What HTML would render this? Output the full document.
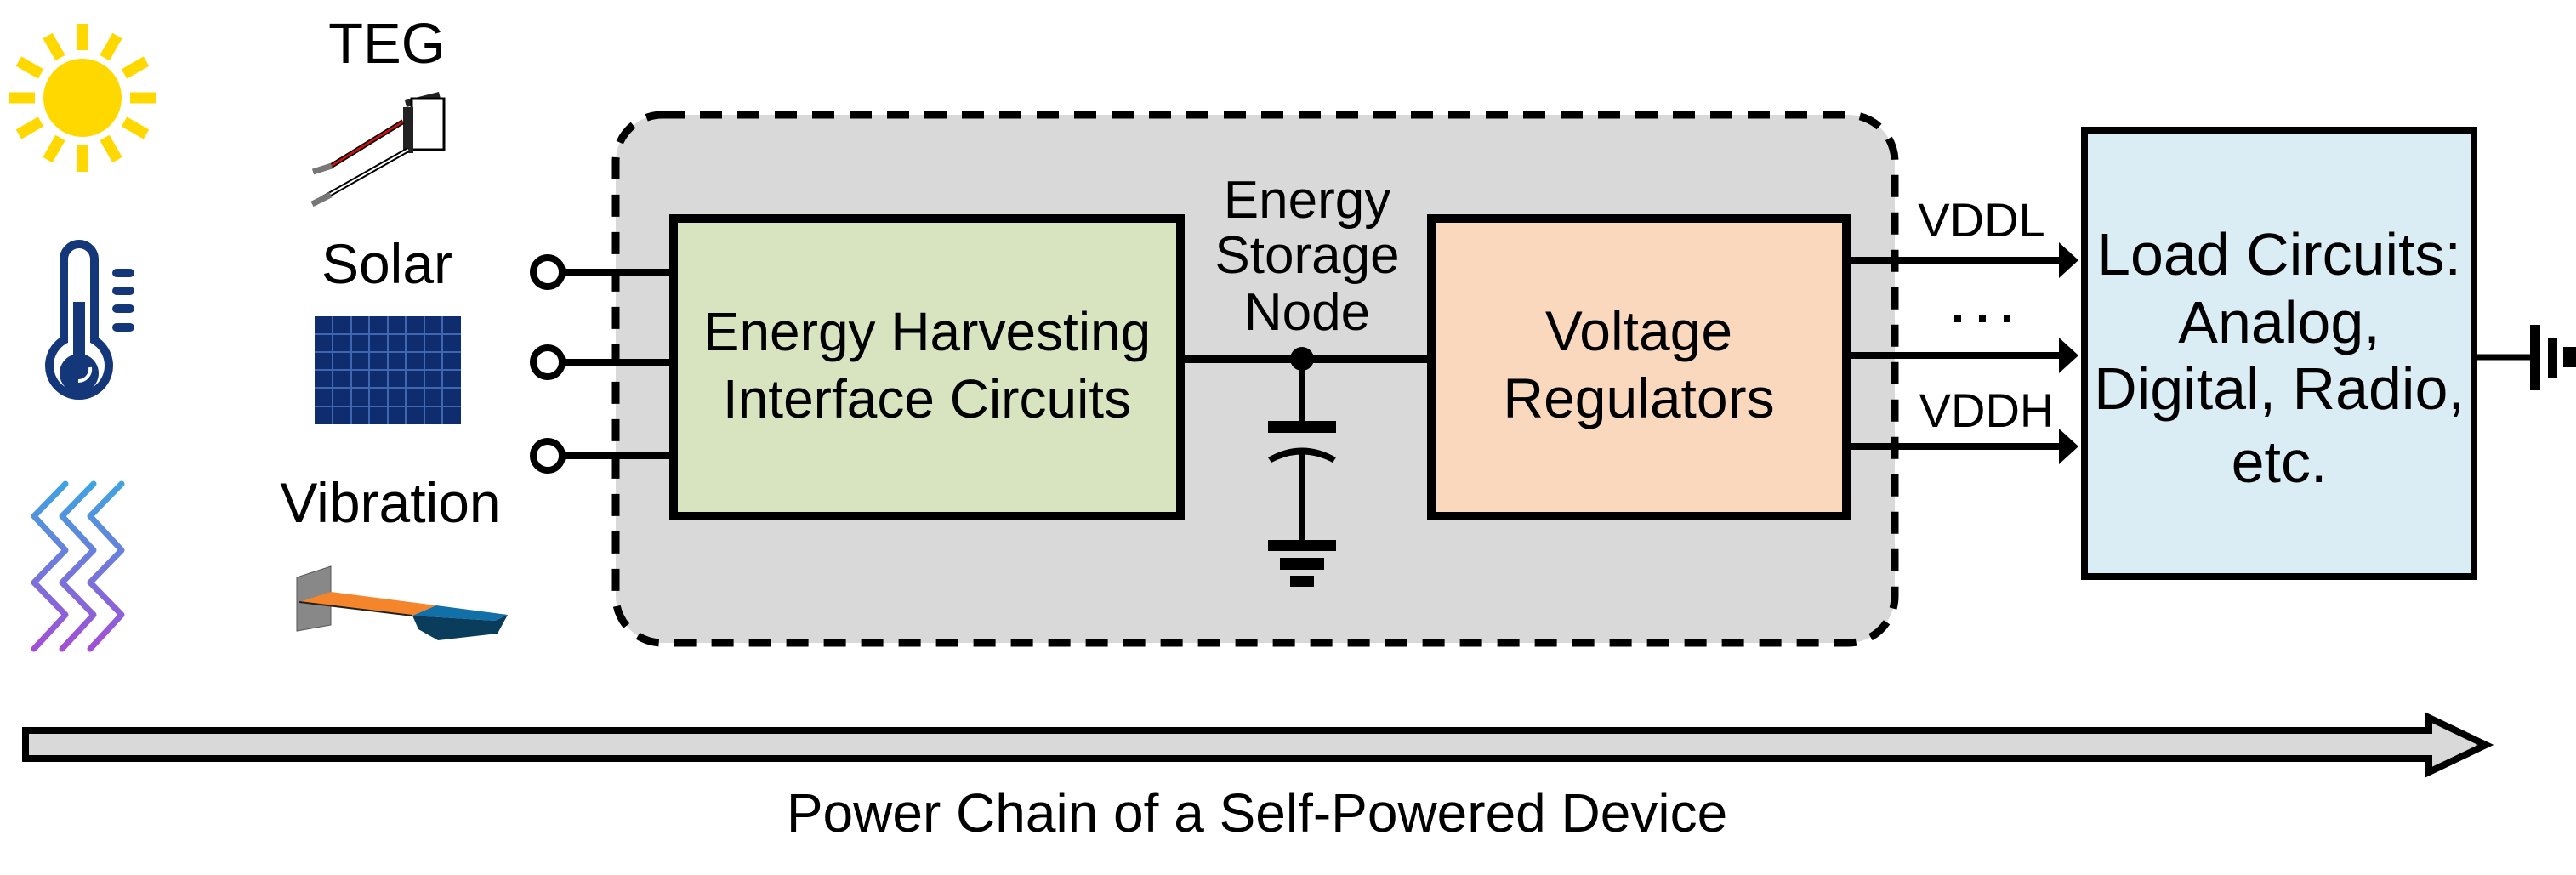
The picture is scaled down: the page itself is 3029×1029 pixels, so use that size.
<!DOCTYPE html>
<html><head><meta charset="utf-8"><style>
html,body{margin:0;padding:0;background:#fff;}
svg{display:block;}
text{font-family:"Liberation Sans",Arial,sans-serif;fill:#000;}
</style></head><body>
<svg width="3029" height="1029" viewBox="0 0 3029 1029" xmlns="http://www.w3.org/2000/svg">
<defs>
<linearGradient id="zg" x1="0" y1="0" x2="0" y2="1">
<stop offset="0" stop-color="#3fa3e0"/><stop offset="1" stop-color="#a24fd6"/>
</linearGradient>
</defs>
<!-- Sun -->
<g fill="#ffd800" stroke="#ffd800">
<circle cx="97" cy="115" r="46" stroke="none"/>
<g stroke-width="13">
<line x1="97" y1="28" x2="97" y2="59"/><line x1="97" y1="171" x2="97" y2="202"/>
<line x1="10" y1="115" x2="41" y2="115"/><line x1="153" y1="115" x2="184" y2="115"/>
<line x1="56" y1="42" x2="71" y2="68"/><line x1="123" y1="162" x2="138" y2="188"/>
<line x1="138" y1="42" x2="123" y2="68"/><line x1="71" y1="162" x2="56" y2="188"/>
<line x1="22" y1="72" x2="48" y2="87"/><line x1="146" y1="143" x2="172" y2="158"/>
<line x1="172" y1="72" x2="146" y2="87"/><line x1="48" y1="143" x2="22" y2="158"/>
</g></g>
<!-- Thermometer -->
<g fill="none" stroke="#14377a" stroke-width="10" stroke-linecap="round">
<path d="M75 400 V305 a18 18 0 0 1 36 0 V400 a35 35 0 1 1 -36 0 Z"/>
<line x1="137" y1="321" x2="153" y2="321"/><line x1="137" y1="342" x2="153" y2="342"/>
<line x1="137" y1="363" x2="153" y2="363"/><line x1="137" y1="385" x2="153" y2="385"/>
</g>
<rect x="86" y="355" width="14" height="70" fill="#14377a"/>
<circle cx="93" cy="439" r="23" fill="#14377a"/>
<path d="M106 432 a14 14 0 0 1 -14 16" stroke="#fff" stroke-width="4" fill="none"/>
<!-- Zigzags -->
<g fill="none" stroke="url(#zg)" stroke-width="7" stroke-linecap="round" stroke-linejoin="round">
<path d="M77 569 L40 607 L77 647 L40 685 L77 723 L40 763"/>
<path d="M110 569 L73 607 L110 647 L73 685 L110 723 L73 763"/>
<path d="M143 569 L106 607 L143 647 L106 685 L143 723 L106 763"/>
</g>
<!-- TEG -->
<text x="455" y="74" font-size="67" text-anchor="middle">TEG</text>
<polygon points="476,118 516,108 518,116 478,126" fill="#222"/>
<rect x="484" y="116" width="38" height="60" fill="#fff" stroke="#000" stroke-width="3"/>
<rect x="474" y="126" width="12" height="54" fill="#222"/>
<line x1="388" y1="196" x2="474" y2="143" stroke="#000" stroke-width="6"/>
<line x1="388" y1="196" x2="474" y2="143" stroke="#d01010" stroke-width="2.5"/>
<line x1="378" y1="234" x2="480" y2="176" stroke="#000" stroke-width="6"/>
<line x1="378" y1="234" x2="480" y2="176" stroke="#fff" stroke-width="2"/>
<line x1="368" y1="202" x2="390" y2="195" stroke="#777" stroke-width="7"/>
<line x1="367" y1="240" x2="389" y2="229" stroke="#777" stroke-width="7"/>
<!-- Solar -->
<text x="455" y="333" font-size="66" text-anchor="middle">Solar</text>
<rect x="370" y="372" width="172" height="127" fill="#0f2d6e"/>
<g stroke="#3f66b0" stroke-width="2">
<line x1="391" y1="372" x2="391" y2="499"/><line x1="413" y1="372" x2="413" y2="499"/><line x1="434" y1="372" x2="434" y2="499"/><line x1="456" y1="372" x2="456" y2="499"/><line x1="477" y1="372" x2="477" y2="499"/><line x1="499" y1="372" x2="499" y2="499"/><line x1="520" y1="372" x2="520" y2="499"/>
<line x1="370" y1="393" x2="542" y2="393"/><line x1="370" y1="414" x2="542" y2="414"/><line x1="370" y1="435" x2="542" y2="435"/><line x1="370" y1="456" x2="542" y2="456"/><line x1="370" y1="478" x2="542" y2="478"/>
</g>
<!-- Vibration -->
<text x="459" y="614" font-size="66" text-anchor="middle">Vibration</text>
<polygon points="349,679 389,666 389,735 349,742" fill="#888" stroke="#555" stroke-width="1"/>
<polygon points="352,708 389,696 513,712 485,724" fill="#f5852a"/>
<polygon points="485,724 513,712 597,723 582,730" fill="#1170a8"/>
<polygon points="485,724 582,730 597,723 585,745 515,753 492,740" fill="#0a3c5c"/>
<line x1="352" y1="708" x2="485" y2="724" stroke="#222" stroke-width="2"/>
<!-- Dashed container -->
<rect x="724" y="135" width="1504" height="621" rx="55" fill="#d9d9d9" stroke="#000" stroke-width="9" stroke-dasharray="26,18"/>
<!-- input terminals -->
<g stroke="#000" stroke-width="8" fill="#fff">
<line x1="664" y1="320" x2="787" y2="320"/><line x1="664" y1="426" x2="787" y2="426"/><line x1="664" y1="536" x2="787" y2="536"/>
<circle cx="644" cy="320" r="17"/><circle cx="644" cy="426" r="17"/><circle cx="644" cy="536" r="17"/>
</g>
<!-- boxes -->
<rect x="792" y="257" width="596" height="350" fill="#d8e4bf" stroke="#000" stroke-width="10"/>
<rect x="1683" y="257" width="488" height="350" fill="#fad8bd" stroke="#000" stroke-width="10"/>
<text x="1090" y="412" font-size="64" text-anchor="middle">Energy Harvesting</text>
<text x="1090" y="491" font-size="64" text-anchor="middle">Interface Circuits</text>
<text x="1927" y="412" font-size="66" text-anchor="middle">Voltage</text>
<text x="1927" y="491" font-size="66" text-anchor="middle">Regulators</text>
<!-- node -->
<text x="1537" y="256" font-size="62" text-anchor="middle">Energy</text>
<text x="1537" y="321" font-size="62" text-anchor="middle">Storage</text>
<text x="1537" y="388" font-size="62" text-anchor="middle">Node</text>
<line x1="1393" y1="422" x2="1678" y2="422" stroke="#000" stroke-width="10"/>
<circle cx="1531" cy="422" r="14"/>
<line x1="1531" y1="422" x2="1531" y2="500" stroke="#000" stroke-width="7"/>
<rect x="1491" y="495" width="80" height="14"/>
<path d="M1491 538 Q1531 515 1571 538 L1567 544 Q1531 525 1495 544 Z"/>
<line x1="1531" y1="530" x2="1531" y2="640" stroke="#000" stroke-width="7"/>
<rect x="1491" y="635" width="80" height="13"/>
<rect x="1505" y="656" width="52" height="14"/>
<rect x="1517" y="677" width="28" height="13"/>
<!-- output arrows -->
<g stroke="#000" stroke-width="8">
<line x1="2171" y1="306" x2="2425" y2="306"/><line x1="2171" y1="418" x2="2425" y2="418"/><line x1="2171" y1="525" x2="2425" y2="525"/>
</g>
<polygon points="2421,285 2444,306 2421,327"/>
<polygon points="2421,397 2444,418 2421,439"/>
<polygon points="2421,504 2444,525 2421,546"/>
<text x="2330" y="278" font-size="56" text-anchor="middle">VDDL</text>
<rect x="2298" y="371" width="8" height="8"/><rect x="2327" y="371" width="8" height="8"/><rect x="2356" y="371" width="8" height="8"/>
<text x="2336" y="502" font-size="56" text-anchor="middle">VDDH</text>
<!-- load -->
<rect x="2451" y="153" width="458" height="525" fill="#dbedf4" stroke="#000" stroke-width="8"/>
<g font-size="70" text-anchor="middle">
<text x="2680" y="323">Load Circuits:</text>
<text x="2680" y="403">Analog,</text>
<text x="2680" y="481">Digital, Radio,</text>
<text x="2680" y="567">etc.</text>
</g>
<line x1="2912" y1="420" x2="2978" y2="420" stroke="#000" stroke-width="7"/>
<rect x="2975" y="382" width="12" height="77"/>
<rect x="2996" y="397" width="11" height="47"/>
<rect x="3014" y="408" width="15" height="24"/>
<!-- power chain arrow -->
<polygon points="30,859 2856,859 2856,844 2923,876 2856,908 2856,892 30,892" fill="#d9d9d9" stroke="#000" stroke-width="8" stroke-linejoin="miter"/>
<text x="1478" y="978" font-size="64" text-anchor="middle">Power Chain of a Self-Powered Device</text>
</svg>
</body></html>
